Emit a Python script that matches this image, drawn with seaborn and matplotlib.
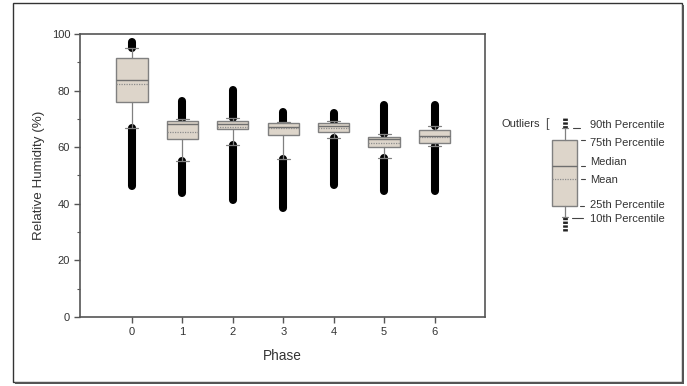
import matplotlib
matplotlib.use("Agg")
import matplotlib.pyplot as plt
from matplotlib.patches import Rectangle
from matplotlib.ticker import MultipleLocator
import seaborn as sns

# Relative humidity summary per phase
phases = [0, 1, 2, 3, 4, 5, 6]
p10 = [66.9, 55.0, 60.8, 55.7, 63.1, 56.1, 60.4]
q1 = [75.9, 63.0, 66.4, 64.3, 65.5, 60.2, 61.6]
median = [83.7, 68.1, 68.2, 67.2, 67.6, 62.8, 64.0]
mean = [82.2, 65.3, 67.0, 66.7, 66.7, 61.6, 63.6]
q3 = [91.6, 69.3, 69.3, 68.4, 68.7, 63.7, 66.1]
p90 = [95.1, 69.8, 70.4, 69.0, 69.3, 64.7, 67.6]
outlier_max = [97.1, 76.4, 80.2, 72.3, 72.0, 74.9, 74.9]
outlier_min = [46.3, 43.9, 41.4, 38.6, 46.5, 44.4, 44.4]

# schematic box used in the key on the right
key_stats = dict(whislo=23, q1=34, med=74, mean=61, q3=100, whishi=112)
key_out_top = 122
key_out_bottom = 9

sns.set_style("ticks")
plt.rcParams["font.family"] = ["Liberation Sans", "DejaVu Sans"]

box_fill = "#ddd5ca"
edge = "#808080"

fig = plt.figure(figsize=(6.87, 3.86), dpi=100)
ax = fig.add_axes([0.1164, 0.1788, 0.5896, 0.7332])

stats = []
for i in range(len(phases)):
    stats.append(dict(whislo=p10[i], q1=q1[i], med=median[i], mean=mean[i],
                      q3=q3[i], whishi=p90[i], fliers=[]))

box_kw = dict(widths=0.62, capwidths=0.26, patch_artist=True, showmeans=True,
              meanline=True, showfliers=False,
              boxprops=dict(facecolor=box_fill, edgecolor=edge, linewidth=1.0),
              medianprops=dict(color="#6e6e6e", linewidth=1.0),
              meanprops=dict(color="#8c8c8c", linestyle=(0, (1, 1)), linewidth=0.9),
              whiskerprops=dict(color=edge, linewidth=0.9),
              capprops=dict(color=edge, linewidth=0.9))

# outliers are so dense they form solid columns
ax.vlines(phases, p90, outlier_max, color="black", linewidth=5.8, capstyle="round", zorder=1)
ax.vlines(phases, outlier_min, p10, color="black", linewidth=5.8, capstyle="round", zorder=1)
ax.bxp(stats, positions=phases, **box_kw)
for ln in ax.lines:
    ln.set_zorder(3)

ax.set_xlim(-1.03, 7.0)
ax.set_ylim(0, 100)
ax.set_xticks(phases)
ax.set_xticklabels([str(p) for p in phases])
ax.yaxis.set_major_locator(MultipleLocator(20))
ax.yaxis.set_minor_locator(MultipleLocator(10))
ax.tick_params(axis="both", which="major", direction="out", length=4, width=1,
               color="#555555", labelsize=8, labelcolor="#333333", pad=3)
ax.tick_params(axis="y", which="minor", direction="out", length=2.5, width=0.8, color="#555555")
for s in ax.spines.values():
    s.set_visible(True)
    s.set_color("#555555")
    s.set_linewidth(1.2)
ax.set_xlabel("Phase", fontsize=9.8, color="#333333", labelpad=9)
ax.set_ylabel("Relative Humidity (%)", fontsize=9.6, color="#333333", labelpad=5)

# key
kax = fig.add_axes([0.7132, 0.3782, 0.2868, 0.3368])
kax.set_xlim(0, 7.88)
kax.set_ylim(0, 130)
kax.axis("off")
key_kw = dict(box_kw)
key_kw["widths"] = 1.0
key_kw["capwidths"] = 0.24
kax.vlines([3], key_stats["whishi"], key_out_top, color="#222222", linewidth=3.4,
           linestyle=(0, (0.5, 0.3)), zorder=1)
kax.vlines([3], key_out_bottom, key_stats["whislo"], color="#222222", linewidth=3.4,
           linestyle=(0, (0.5, 0.3)), zorder=1)
kax.bxp([dict(key_stats, fliers=[])], positions=[3], **key_kw)

txt = dict(fontsize=8, color="#333333", va="center", ha="left")
kax.text(2.0, 116, "Outliers", fontsize=8, color="#333333", va="center", ha="right")
kax.text(2.22, 116, "[", fontsize=9, color="#555555", va="center", ha="left")
labels = [("90th Percentile", 112, 3.32, 3.6, 115),
          ("75th Percentile", 100, 3.64, 3.8, 97),
          ("Median", 74, 3.64, 3.8, 78),
          ("Mean", 61, 3.64, 3.8, 60),
          ("25th Percentile", 34, 3.6, 3.76, 35),
          ("10th Percentile", 22, 3.28, 3.72, 21)]
for name, yd, x0, x1, yt in labels:
    kax.plot([x0, x1], [yd, yd], color="#444444", linewidth=0.8)
    kax.text(4.0, yt, name, **txt)

# outer frame with a small shadow on the right and bottom
fig.patches.append(Rectangle((13 / 687, 4 / 386), 669 / 687, 379 / 386, transform=fig.transFigure,
                             fill=False, edgecolor="#333333", linewidth=1.0))
fig.patches.append(Rectangle((15 / 687, 2 / 386), 669 / 687, 2 / 386, transform=fig.transFigure,
                             color="#555555", linewidth=0))
fig.patches.append(Rectangle((682 / 687, 2 / 386), 2 / 687, 379 / 386, transform=fig.transFigure,
                             color="#555555", linewidth=0))

fig.savefig("out.png", dpi=100)
